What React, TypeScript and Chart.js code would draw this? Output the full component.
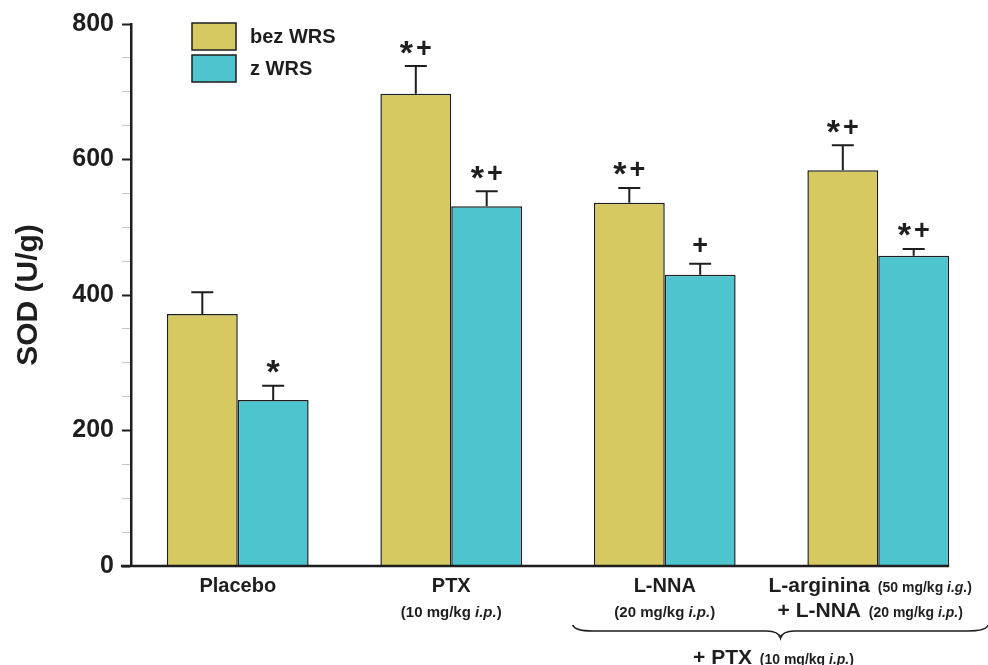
import React, { useEffect, useRef } from "react";
import { Chart, registerables } from "chart.js";

Chart.register(...registerables);

const categories = ["Placebo", "PTX", "L-NNA", "L-arginina + L-NNA"];
const seriesNames = ["bez WRS", "z WRS"];
const bezWRS = [372, 697, 536, 584];
const bezWRSUpper = [404, 738, 558, 621];
const zWRS = [245, 531, 430, 458];
const zWRSUpper = [266, 553, 446, 468];
const bezSig = ["", "*+", "*+", "*+"];
const zSig = ["*", "*+", "+", "*+"];
const yMajorTicks = [0, 200, 400, 600, 800];
const yTitle = "SOD (U/g)";

type Seg = { text: string; size: number; italic?: boolean };
const categoryLabels: Seg[][][] = [
  [[{ text: "Placebo", size: 20 }]],
  [
    [{ text: "PTX", size: 20 }],
    [{ text: "(10 mg/kg ", size: 15 }, { text: "i.p.", size: 15, italic: true }, { text: ")", size: 15 }],
  ],
  [
    [{ text: "L-NNA", size: 20 }],
    [{ text: "(20 mg/kg ", size: 15 }, { text: "i.p.", size: 15, italic: true }, { text: ")", size: 15 }],
  ],
  [
    [{ text: "L-arginina", size: 21 }, { text: "  (50 mg/kg ", size: 14 }, { text: "i.g.", size: 14, italic: true }, { text: ")", size: 14 }],
    [{ text: "+ L-NNA", size: 21 }, { text: "  (20 mg/kg ", size: 14 }, { text: "i.p.", size: 14, italic: true }, { text: ")", size: 14 }],
  ],
];
const braceLabel: Seg[] = [
  { text: "+ PTX", size: 21 },
  { text: "  (10 mg/kg ", size: 14 },
  { text: "i.p.", size: 14, italic: true },
  { text: ")", size: 14 },
];

const YELLOW = "#d6c962";
const CYAN = "#4ec4cf";
const INK = "#1e1e1e";
const FONT = "'Liberation Sans', Arial, sans-serif";

function segFont(s: Seg) {
  return `${s.italic ? "italic " : ""}bold ${s.size}px ${FONT}`;
}

function drawSegs(ctx: CanvasRenderingContext2D, segs: Seg[], cx: number, cy: number) {
  let total = 0;
  const widths = segs.map((s) => {
    ctx.font = segFont(s);
    const w = ctx.measureText(s.text).width;
    total += w;
    return w;
  });
  let x = cx - total / 2;
  ctx.textBaseline = "alphabetic";
  ctx.textAlign = "left";
  segs.forEach((s, i) => {
    ctx.font = segFont(s);
    ctx.fillText(s.text, x, cy + 7);
    x += widths[i];
  });
}

function drawSig(ctx: CanvasRenderingContext2D, text: string, cx: number, cy: number) {
  if (!text) return;
  const gap = 3;
  const chars = text.split("");
  const fonts = chars.map((c) => (c === "*" ? `bold 34px ${FONT}` : `bold 27px ${FONT}`));
  const ws = chars.map((c, i) => {
    ctx.font = fonts[i];
    return ctx.measureText(c).width;
  });
  const total = ws.reduce((a, b) => a + b, 0) + gap * (chars.length - 1);
  let x = cx - total / 2;
  ctx.textAlign = "left";
  ctx.textBaseline = "alphabetic";
  chars.forEach((c, i) => {
    ctx.font = fonts[i];
    const m = ctx.measureText(c);
    const asc = m.actualBoundingBoxAscent;
    const desc = m.actualBoundingBoxDescent;
    const base = cy + (asc - desc) / 2;
    ctx.fillText(c, x, base);
    x += ws[i] + gap;
  });
}

const decorPlugin = {
  id: "decor",
  beforeDraw(chart: any) {
    const { ctx } = chart;
    ctx.save();
    ctx.fillStyle = "#ffffff";
    ctx.fillRect(0, 0, chart.width, chart.height);
    ctx.restore();
  },
  afterDatasetsDraw(chart: any) {
    const { ctx, chartArea, scales } = chart;
    const y = scales.y;
    const x = scales.x;
    ctx.save();
    ctx.strokeStyle = INK;
    ctx.fillStyle = INK;
    ctx.lineWidth = 2;
    const uppers = [bezWRSUpper, zWRSUpper];
    const vals = [bezWRS, zWRS];
    const sigs = [bezSig, zSig];
    [0, 1].forEach((di) => {
      const meta = chart.getDatasetMeta(di);
      meta.data.forEach((bar: any, i: number) => {
        const p = bar.getProps(["x"], true);
        const top = y.getPixelForValue(vals[di][i]);
        const up = y.getPixelForValue(uppers[di][i]);
        ctx.beginPath();
        ctx.moveTo(p.x, top);
        ctx.lineTo(p.x, up);
        ctx.moveTo(p.x - 11, up);
        ctx.lineTo(p.x + 11, up);
        ctx.stroke();
        drawSig(ctx, sigs[di][i], p.x, up - 19);
      });
    });

    // x axis line up to the last bar
    const lastMeta = chart.getDatasetMeta(1);
    const lastBar = lastMeta.data[lastMeta.data.length - 1].getProps(["x", "width"], true);
    ctx.lineWidth = 2.5;
    ctx.beginPath();
    ctx.moveTo(chartArea.left - 10, chartArea.bottom);
    ctx.lineTo(lastBar.x + lastBar.width / 2, chartArea.bottom);
    ctx.stroke();

    // category labels
    ctx.fillStyle = INK;
    categoryLabels.forEach((lines, i) => {
      const cx = x.getPixelForValue(i) + (i === 3 ? -8 : 0);
      lines.forEach((segs, li) => {
        drawSegs(ctx, segs, cx, chartArea.bottom + 19 + li * 25);
      });
    });

    // brace under last two groups
    const c2 = x.getPixelForValue(2);
    const c3 = x.getPixelForValue(3);
    const left = c2 - 92;
    const right = c3 + 110;
    const mid = (left + right) / 2;
    const by = chartArea.bottom + 65;
    ctx.lineWidth = 1.6;
    ctx.beginPath();
    ctx.moveTo(left, by - 6);
    ctx.quadraticCurveTo(left + 2, by, left + 20, by);
    ctx.lineTo(mid - 14, by);
    ctx.quadraticCurveTo(mid - 2, by, mid, by + 7);
    ctx.quadraticCurveTo(mid + 2, by, mid + 14, by);
    ctx.lineTo(right - 20, by);
    ctx.quadraticCurveTo(right - 2, by, right, by - 6);
    ctx.stroke();
    drawSegs(ctx, braceLabel, mid - 7, chartArea.bottom + 91);

    // legend
    const lx = 192;
    const ly = 23;
    [YELLOW, CYAN].forEach((col, i) => {
      const top = ly + i * 32;
      ctx.fillStyle = col;
      ctx.fillRect(lx, top, 44, 27);
      ctx.strokeStyle = INK;
      ctx.lineWidth = 1.5;
      ctx.strokeRect(lx, top, 44, 27);
      ctx.fillStyle = INK;
      ctx.font = `bold 20px ${FONT}`;
      ctx.textAlign = "left";
      ctx.textBaseline = "middle";
      ctx.fillText(seriesNames[i], lx + 58, top + 14);
    });
    ctx.restore();
  },
};

export default function App() {
  const ref = useRef<HTMLCanvasElement | null>(null);
  useEffect(() => {
    document.body.style.margin = "0";
    const canvas = ref.current;
    if (!canvas) return;
    const chart = new Chart(canvas, {
      type: "bar",
      data: {
        labels: categories,
        datasets: [
          {
            label: seriesNames[0],
            data: bezWRS,
            backgroundColor: YELLOW,
            borderColor: INK,
            borderWidth: 1.5,
            barPercentage: 1,
            categoryPercentage: 0.664,
          },
          {
            label: seriesNames[1],
            data: zWRS,
            backgroundColor: CYAN,
            borderColor: INK,
            borderWidth: 1.5,
            barPercentage: 1,
            categoryPercentage: 0.664,
          },
        ],
      },
      options: {
        responsive: false,
        animation: false,
        layout: { padding: { top: 24, right: 3, left: 0, bottom: 0 } },
        plugins: {
          legend: { display: false },
          tooltip: { enabled: false },
        },
        scales: {
          x: {
            grid: { display: false },
            border: { display: false },
            ticks: { display: false },
            afterFit: (s: any) => {
              s.height = 99;
            },
          },
          y: {
            min: 0,
            max: 800,
            border: { display: true, color: INK, width: 2.5 },
            grid: {
              drawOnChartArea: false,
              drawTicks: true,
              tickLength: 9,
              tickColor: (c: any) => (c.tick && c.tick.value % 200 === 0 ? INK : "rgba(0,0,0,0.22)"),
              tickWidth: (c: any) => (c.tick && c.tick.value % 200 === 0 ? 2 : 1),
            },
            ticks: {
              stepSize: 50,
              padding: 8,
              color: INK,
              font: { family: FONT, size: 25, weight: "bold" },
              callback: (v: any) => (yMajorTicks.includes(Number(v)) ? String(v) : ""),
            },
            title: {
              display: true,
              text: yTitle,
              color: INK,
              font: { family: FONT, size: 30, weight: "bold" },
              padding: { top: 11, bottom: 4 },
            },
            afterFit: (s: any) => {
              s.width = 131;
            },
          },
        },
      },
      plugins: [decorPlugin],
    });
    return () => chart.destroy();
  }, []);
  return (
    <div style={{ width: 988, height: 665 }}>
      <canvas ref={ref} width={988} height={665} />
    </div>
  );
}
